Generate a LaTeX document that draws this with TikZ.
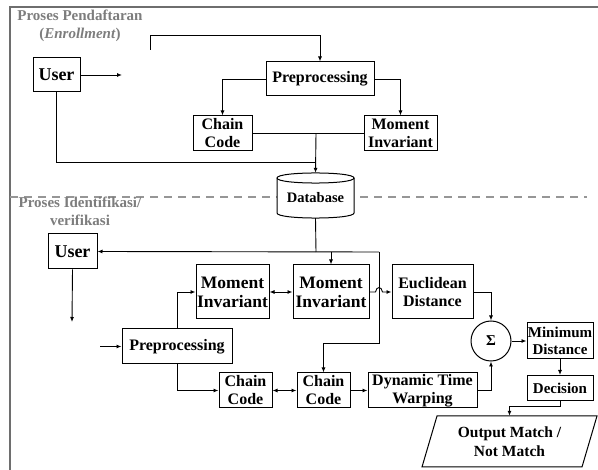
\documentclass[tikz,border=0pt]{standalone}
\usepackage{fontspec}
\setmainfont{Liberation Serif}
\usetikzlibrary{arrows.meta}
\definecolor{framegray}{RGB}{110,110,110}
\definecolor{titlegray}{RGB}{125,125,125}
\definecolor{dashgray}{RGB}{150,150,150}
\tikzset{
  box/.style={draw, line width=1pt, fill=white, inner sep=0pt, align=center,
    font=\fontsize{16}{18}\selectfont\bfseries},
  bigtext/.style={font=\fontsize{17.5}{19}\selectfont\bfseries},
  conn/.style={line width=0.9pt},
  arr/.style={conn, -{Latex[length=5pt,width=4pt]}},
  biarr/.style={conn, {Latex[length=5pt,width=4pt]}-{Latex[length=5pt,width=4pt]}},
  title/.style={text=titlegray, align=center, inner sep=0pt,
    font=\fontsize{15}{18}\selectfont\bfseries},
}
\begin{document}
\begin{tikzpicture}[x=1pt,y=-1pt]
\useasboundingbox (0,0) rectangle (598,470);

% frame and section divider
\draw[framegray, line width=1.6pt] (10,470) -- (10,7) -- (598,7);
\draw[dashgray, line width=1.2pt, dash pattern=on 8pt off 6pt] (10,197) -- (587,197);

% ---------- enrollment ----------
\node[title] (t1) at (80,26) {Proses Pendaftaran\\(\textit{Enrollment})};
\node[box, minimum width=47, minimum height=34, font=\fontsize{18}{18}\selectfont\bfseries] (userA) at (56.5,75) {User};
\node[box, minimum width=108, minimum height=34] (preA) at (320,79) {Preprocessing};
\node[box, minimum width=59, minimum height=35] (ccA) at (222.5,133.5) {Chain\\Code};
\node[box, minimum width=73, minimum height=35] (miA) at (400.5,133.5) {Moment\\Invariant};

\coordinate (uEnd) at (122,75);
\coordinate (fbStart) at (150,50);
\coordinate (jA) at (316,133.5);
\coordinate (jU) at (316,162);

% database cylinder
\node[minimum width=77, minimum height=45, inner sep=0pt] (db) at (315.5,195.5) {};
\fill[white] (277,178) .. controls (277,171.3) and (354,171.3) .. (354,178)
  -- (354,213) .. controls (354,219.7) and (277,219.7) .. (277,213) -- cycle;
\draw[line width=1pt] (277,178) .. controls (277,171.3) and (354,171.3) .. (354,178)
  .. controls (354,184.7) and (277,184.7) .. (277,178);
\draw[line width=1pt] (277,178) -- (277,213) .. controls (277,219.7) and (354,219.7) .. (354,213) -- (354,178);
\node[font=\fontsize{14.5}{16}\selectfont\bfseries, inner sep=0pt] (dbl) at (315.5,198) {Database};

\draw[arr] (userA.east) -- (uEnd);
\draw[arr] (fbStart) -- (150,35) -| (preA.north);
\draw[arr] (preA.west) -| (ccA.north);
\draw[arr] (preA.east) -| (miA.north);
\draw[conn] (ccA.east) -- (miA.west);
\draw[conn] (userA.south) |- (jU);
\draw[arr] (jA) -- (db.north);

% ---------- identification / verification ----------
\node[title] (t2) at (80,211.5) {Proses Identifikasi/\\verifikasi};
\node[box, minimum width=49, minimum height=35, font=\fontsize{18}{18}\selectfont\bfseries] (userB) at (72.5,251.5) {User};
\node[box, minimum width=110, minimum height=35] (preB) at (177,346.5) {Preprocessing};
\node[box, bigtext, minimum width=73, minimum height=54] (miB1) at (232.5,292) {Moment\\Invariant};
\node[box, bigtext, minimum width=76, minimum height=54] (miB2) at (331,292) {Moment\\Invariant};
\node[box, minimum width=81, minimum height=54] (eu) at (432.5,292) {Euclidean\\Distance};
\node[box, minimum width=53, minimum height=35] (ccB1) at (245.5,390.5) {Chain\\Code};
\node[box, minimum width=53, minimum height=35] (ccB2) at (323.5,390.5) {Chain\\Code};
\node[box, minimum width=109, minimum height=35] (dtw) at (422.5,390.5) {Dynamic Time\\Warping};
\node[draw, line width=1pt, circle, minimum size=40, inner sep=0pt,
  font=\fontsize{15}{16}\selectfont\bfseries] (sig) at (491,341) {Σ};
\node[box, minimum width=66, minimum height=36, font=\fontsize{15}{17}\selectfont\bfseries] (minD) at (560,341) {Minimum\\Distance};
\node[box, minimum width=66, minimum height=25, font=\fontsize{15}{17}\selectfont\bfseries] (dec) at (560,388) {Decision};
\node[inner sep=0pt, align=center, font=\fontsize{15.5}{19}\selectfont\bfseries,
  minimum width=160, minimum height=51] (out) at (509.5,441.5) {Output Match /\\Not Match};
\draw[line width=1pt] (437,416) -- (597,416) -- (582,467) -- (422,467) -- cycle;

\coordinate (jDB) at (316,252);
\coordinate (jR) at (379,252);
\coordinate (jMI) at (331,252);
\coordinate (uEndB) at (72,322);
\coordinate (pStart) at (100,346.5);

\draw[conn] (db.south) -- (jDB);
\draw[arr] (jR) -- (userB.east);
\draw[arr] (jR) -- (379,343) -| (ccB2.north);
\draw[arr] (jMI) -- (miB2.north);
\draw[arr] (userB.south) -- (uEndB);
\draw[arr] (pStart) -- (preB.west);
\draw[arr] (preB.north) |- (miB1.west);
\draw[arr] (preB.south) |- (ccB1.west);
\draw[biarr] (miB1.east) -- (miB2.west);
\draw[arr] (miB2.east) -- (375.5,292) .. controls (376.5,286) and (381.5,286) .. (382.5,292) -- (eu.west);
\draw[biarr] (ccB1.east) -- (ccB2.west);
\draw[arr] (ccB2.east) -- (dtw.west);
\draw[arr] (eu.east) -| (sig.north);
\draw[arr] (dtw.east) -| (sig.south);
\draw[arr] (sig.east) -- (minD.west);
\draw[arr] (minD.south) -- (dec.north);
\draw[arr] (dec.south) -- (560,406) -| (out.north);
\end{tikzpicture}
\end{document}
